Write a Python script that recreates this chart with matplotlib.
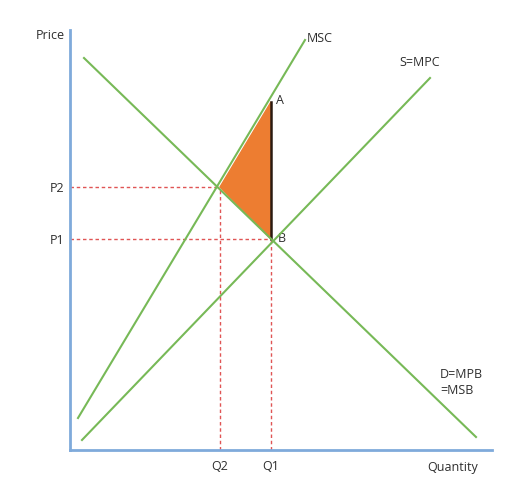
# Externality diagram: MSC above S=MPC with demand D=MPB=MSB

import matplotlib.pyplot as plt

# Curve end points (quantity, price)
demand_x = [14, 406]
demand_y = [392, 13]
mpc_x = [12, 360]
mpc_y = [10, 372]
msc_x = [8, 235]
msc_y = [32, 410]

# Equilibria
q_vals = [150, 201]
q_labels = ['Q2', 'Q1']
p_vals = [211, 263]
p_labels = ['P1', 'P2']
a_price = 348

green = '#77B957'
red = '#E05555'
txt = '#2E2E2E'

plt.rcParams['font.family'] = ['Open Sans', 'DejaVu Sans']

fig = plt.figure(figsize=(5.23, 4.79), dpi=100)
ax = fig.add_axes([0, 0, 1, 1])
ax.set_xlim(-70, 453)
ax.set_ylim(-29, 450)

# Dashed guide lines
q2, q1 = q_vals
p1, p2 = p_vals
dash = (0, (2.5, 2))
ax.plot([0, q2], [p2, p2], color=red, lw=1.0, ls=dash)
ax.plot([q2, q2], [0, p2], color=red, lw=1.0, ls=dash)
ax.plot([0, q1], [p1, p1], color=red, lw=1.0, ls=dash)
ax.plot([q1, q1], [0, p1], color=red, lw=1.0, ls=dash)

# Deadweight loss triangle
ax.fill([q2, q1, q1], [p2, a_price, p1], color='#ED7D31', zorder=2)
ax.plot([q1, q1], [p1, a_price], color='#2B1A10', lw=1.8, zorder=3)

# Curves
ax.plot(demand_x, demand_y, color=green, lw=1.5, zorder=4)
ax.plot(mpc_x, mpc_y, color=green, lw=1.5, zorder=4)
ax.plot(msc_x, msc_y, color=green, lw=1.5, zorder=4)

# Axes
for s in ['top', 'right']:
    ax.spines[s].set_visible(False)
ax.spines['left'].set_position(('data', 0))
ax.spines['bottom'].set_position(('data', 0))
ax.spines['left'].set_bounds(0, 420)
ax.spines['bottom'].set_bounds(0, 422)
for s in ['left', 'bottom']:
    ax.spines[s].set_color('#7FAADB')
    ax.spines[s].set_linewidth(2)
ax.set_xticks(q_vals)
ax.set_xticklabels(q_labels)
ax.set_yticks(p_vals)
ax.set_yticklabels(p_labels)
ax.tick_params(axis='y', length=0, labelsize=9, colors=txt, pad=4)
ax.tick_params(axis='x', length=0, labelsize=9, colors=txt, pad=7)

ax.text(-5, 415, 'Price', ha='right', va='center', fontsize=9, color=txt)
ax.text(383, -17, 'Quantity', ha='center', va='center', fontsize=9, color=txt)
ax.text(250, 412, 'MSC', ha='center', va='center', fontsize=9, color=txt)
ax.text(350, 388, 'S=MPC', ha='center', va='center', fontsize=9, color=txt)
ax.text(370, 68, 'D=MPB\n=MSB', ha='left', va='center', fontsize=9, color=txt,
        linespacing=1.3)
ax.text(206, 350, 'A', ha='left', va='center', fontsize=9, color=txt)
ax.text(208, 212, 'B', ha='left', va='center', fontsize=9, color=txt)

fig.savefig('out.png', dpi=100)
